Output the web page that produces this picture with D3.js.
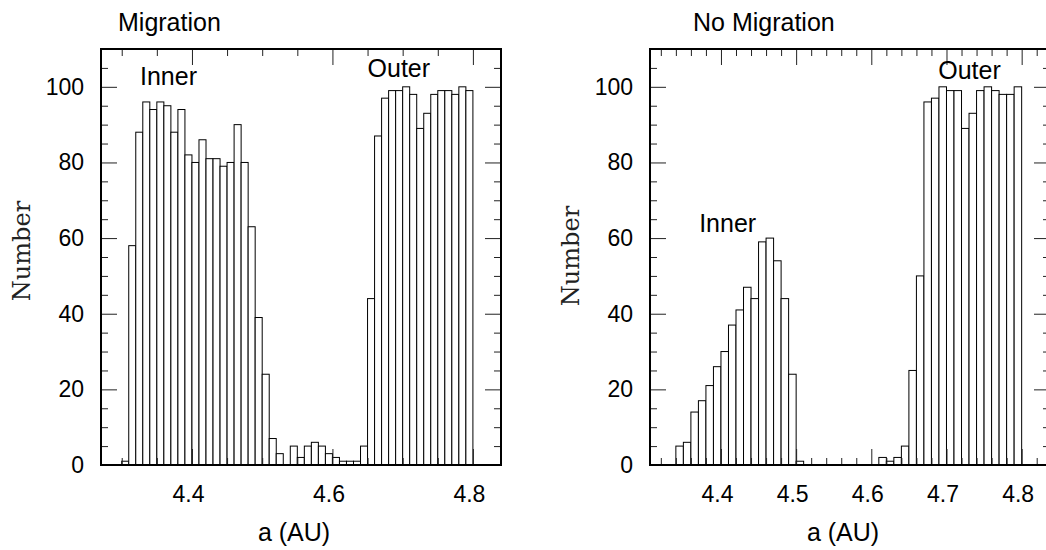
<!doctype html>
<html>
<head>
	<style>
body { margin: 0; background: #fff; }
text { font-family: "Liberation Sans", Arial, Helvetica, sans-serif; fill: #000; }
.frame { fill: none; stroke: #000; stroke-width: 2px; }
.bar { fill: #fff; stroke: #000; stroke-width: 1px; }
.tick line { stroke: #222; stroke-width: 1px; }
.domain { display: none; }
.ylabel { font-family: "DejaVu Serif", serif; font-size: 24px; fill: #222; }
	</style>
</head>
<body>

	<div id="root"></div>

	<script src="https://d3js.org/d3.v7.min.js"></script>
	<script>

	// histogram bins are 0.01 AU wide
	var binWidth = 0.01;

	// Migration: bins from 4.30 to 4.79
	var migStart = 4.30;
	var migCounts = [1, 58, 88, 96, 94, 96, 95, 88, 94, 82,
		80, 86, 81, 81, 79, 80, 90, 80, 63, 39,
		24, 7, 3, 0, 5, 2, 5, 6, 5, 3,
		2, 1, 1, 1, 5, 44, 87, 97, 99, 99,
		100, 98, 89, 93, 98, 99, 99, 98, 100, 99];

	// No Migration: bins from 4.34 to 4.79
	var noMigStart = 4.34;
	var noMigCounts = [5, 6, 14, 17, 21, 26, 30, 37, 41, 47,
		44, 59, 60, 54, 44, 24, 1, 0, 0, 0,
		0, 0, 0, 0, 0, 0, 0, 2, 1, 2,
		5, 25, 50, 96, 97, 100, 99, 99, 89, 93,
		99, 100, 99, 98, 98, 100];

	var yMajor = [0, 20, 40, 60, 80, 100];
	var yMinor = [5, 10, 15, 25, 30, 35, 45, 50, 55, 65, 70, 75, 85, 90, 95, 105];

	var migMajor = [4.4, 4.6, 4.8];
	var migMinor = [4.3, 4.35, 4.45, 4.5, 4.55, 4.65, 4.7, 4.75];

	var noMigMajor = [4.4, 4.5, 4.6, 4.7, 4.8];
	var noMigMinor = [4.32, 4.34, 4.36, 4.38, 4.42, 4.44, 4.46, 4.48,
		4.52, 4.54, 4.56, 4.58, 4.62, 4.64, 4.66, 4.68,
		4.72, 4.74, 4.76, 4.78, 4.82];

	// text labels placed in data units
	var migNotes = [{text: 'Inner', a: 4.326, n: 100.5}, {text: 'Outer', a: 4.650, n: 102.5}];
	var noMigNotes = [{text: 'Inner', a: 4.371, n: 61.5}, {text: 'Outer', a: 4.689, n: 102}];

	var W = 1046, H = 550;
	var svg = d3.select('#root').append('svg')
		.attr('width', W)
		.attr('height', H);

	var top0 = 49, bottom0 = 465, pw = 400;
	var y = d3.scaleLinear().domain([0, 110]).range([bottom0, top0]);

	function panel(opt) {
		var x = d3.scaleLinear().domain(opt.domain).range([opt.left, opt.left + pw]);
		var g = svg.append('g');

		g.selectAll('.bar')
			.data(opt.counts)
			.enter().append('rect')
				.attr('class', 'bar')
				.attr('x', function(d, i){ return x(opt.start + i * binWidth); })
				.attr('width', function(d, i){ return x(opt.start + (i + 1) * binWidth) - x(opt.start + i * binWidth); })
				.attr('y', function(d){ return y(d); })
				.attr('height', function(d){ return y(0) - y(d); });

		// minor / major ticks on all four sides
		function ticks(axis, vals, size, labels, tr) {
			var a = axis.tickValues(vals).tickSize(-size).tickSizeOuter(0);
			if (!labels) a.tickFormat('');
			return g.append('g').attr('transform', tr).call(a);
		}
		var bx = 'translate(0,' + bottom0 + ')', tx = 'translate(0,' + top0 + ')';
		var lx = 'translate(' + opt.left + ',0)', rx = 'translate(' + (opt.left + pw) + ',0)';

		ticks(d3.axisBottom(x), opt.minor, 7, false, bx);
		var xl = ticks(d3.axisBottom(x).tickPadding(21).tickFormat(d3.format('.1f')), opt.major, 16, true, bx);
		ticks(d3.axisTop(x), opt.minor, 7, false, tx);
		ticks(d3.axisTop(x), opt.major, 16, false, tx);

		ticks(d3.axisLeft(y), yMinor, 7, false, lx);
		var yl = ticks(d3.axisLeft(y).tickPadding(17), yMajor, 16, true, lx);
		ticks(d3.axisRight(y), yMinor, 7, false, rx);
		ticks(d3.axisRight(y), yMajor, 16, false, rx);

		xl.attr('font-family', null);
		yl.attr('font-family', null);
		xl.selectAll('text').attr('font-size', 23).attr('dx', -4);
		yl.selectAll('text').attr('font-size', 23);

		g.append('rect')
			.attr('class', 'frame')
			.attr('x', opt.left)
			.attr('y', top0)
			.attr('width', pw)
			.attr('height', bottom0 - top0);

		g.selectAll('.note')
			.data(opt.notes)
			.enter().append('text')
				.attr('x', function(d){ return x(d.a); })
				.attr('y', function(d){ return y(d.n); })
				.attr('font-size', 25)
				.text(function(d){ return d.text; });

		g.append('text')
			.attr('x', opt.titleX)
			.attr('y', 31)
			.attr('font-size', 25)
			.text(opt.title);

		g.append('text')
			.attr('x', opt.left + pw / 2 - 7)
			.attr('y', 541)
			.attr('text-anchor', 'middle')
			.attr('font-size', 25)
			.text('a (AU)');

		g.append('text')
			.attr('class', 'ylabel')
			.attr('transform', 'translate(' + (opt.left - 71) + ',' + opt.labelY + ') rotate(-90)')
			.attr('text-anchor', 'middle')
			.text('Number');
	}

	panel({
		left: 101, domain: [4.2705, 4.84], start: migStart, counts: migCounts,
		major: migMajor, minor: migMinor, notes: migNotes,
		title: 'Migration', titleX: 118, labelY: 251
	});

	panel({
		left: 650, domain: [4.3056, 4.8377], start: noMigStart, counts: noMigCounts,
		major: noMigMajor, minor: noMigMinor, notes: noMigNotes,
		title: 'No Migration', titleX: 693, labelY: 256
	});

	</script>
</body>
</html>
